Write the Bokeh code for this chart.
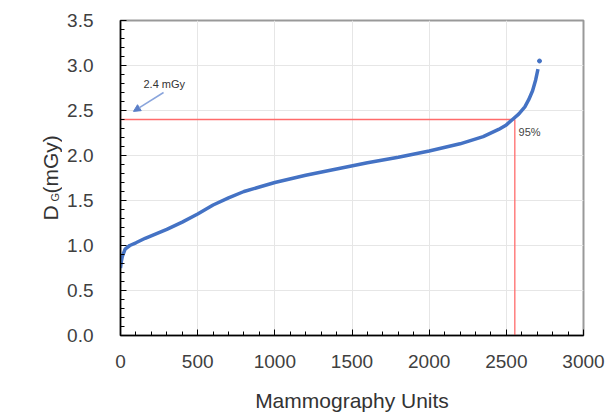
import numpy as np
from bokeh.plotting import figure
from bokeh.layouts import row
from bokeh.models import (Range1d, FixedTicker, Label, Arrow, NormalHead,
                          CustomJSTickFormatter)
from bokeh.core.properties import value
from bokeh.embed import file_html
from bokeh.resources import INLINE

# ---- data ----
units = [0, 5, 12, 30, 60, 100, 160, 230, 300, 400, 500, 600, 700, 800, 900,
         1000, 1200, 1400, 1600, 1800, 2000, 2200, 2350, 2450, 2500, 2540, 2580,
         2620, 2645, 2670, 2690, 2705]
dose = [0.75, 0.82, 0.88, 0.96, 1.00, 1.03, 1.08, 1.13, 1.18, 1.26, 1.35, 1.45,
        1.53, 1.60, 1.65, 1.70, 1.78, 1.85, 1.92, 1.98, 2.05, 2.13, 2.21, 2.29,
        2.34, 2.40, 2.46, 2.54, 2.62, 2.72, 2.84, 2.96]
top_unit = [2715]
top_dose = [3.05]

ref_dose = 2.4      # mGy
ref_unit = 2555     # 95th percentile rank
x_ticks = [0, 500, 1000, 1500, 2000, 2500, 3000]
y_ticks = [0.0, 0.5, 1.0, 1.5, 2.0, 2.5, 3.0, 3.5]
ylabel_parts = ["D", "G", "(mGy)"]

FONT = "Liberation Sans"
BLUE = "#4472c4"
RED = "#ff6b6b"

p = figure(output_backend="svg", toolbar_location=None,
           frame_width=463, frame_height=315,
           min_border_left=58, min_border_right=22,
           min_border_top=20, min_border_bottom=81,
           x_range=Range1d(0, 3000), y_range=Range1d(0, 3.5),
           background_fill_color="white", border_fill_color="white")

p.outline_line_color = "#999999"
p.outline_line_width = 2

# grid
p.xgrid.ticker = FixedTicker(ticks=x_ticks)
p.ygrid.ticker = FixedTicker(ticks=y_ticks)
p.xgrid.grid_line_color = "#e6e6e6"
p.ygrid.grid_line_color = "#e6e6e6"

# axes
p.xaxis.ticker = FixedTicker(ticks=x_ticks, minor_ticks=list(range(0, 3001, 100)))
p.yaxis.ticker = FixedTicker(ticks=y_ticks, minor_ticks=[i / 10 for i in range(0, 36)])
p.yaxis.formatter = CustomJSTickFormatter(code="return tick.toFixed(1);")
for ax in (p.xaxis, p.yaxis):
    ax.axis_line_color = "black"
    ax.axis_line_width = 1.5
    ax.major_tick_in = 6
    ax.major_tick_out = 0
    ax.minor_tick_in = 4
    ax.minor_tick_out = 0
    ax.major_tick_line_color = "black"
    ax.minor_tick_line_color = "black"
    ax.major_label_text_font = FONT
    ax.major_label_text_font_size = "19px"
    ax.major_label_text_color = "#404040"

p.yaxis.major_label_standoff = 27
p.xaxis.major_label_standoff = 19
p.xaxis.axis_label = "Mammography Units"
p.xaxis.axis_label_text_font = FONT
p.xaxis.axis_label_text_font_size = "21px"
p.xaxis.axis_label_text_font_style = "normal"
p.xaxis.axis_label_text_color = "#333333"
p.xaxis.axis_label_standoff = 18

# reference lines
p.line([0, ref_unit], [ref_dose, ref_dose], line_color=RED, line_width=1.3)
p.line([ref_unit, ref_unit], [0, ref_dose], line_color=RED, line_width=1.3)

# curve
p.line(units, dose, line_color=BLUE, line_width=3.5)
p.scatter(top_unit, top_dose, size=4, color=BLUE)

# annotations
p.add_layout(Label(x=149, y=2.79, text="2.4 mGy", text_font=FONT,
                   text_font_size="11px", text_color="#333333",
                   text_baseline="middle", text_align="left"))
p.add_layout(Arrow(end=NormalHead(size=7, fill_color="#5b7fc8", line_color="#5b7fc8"),
                   x_start=279, y_start=2.70, x_end=84, y_end=2.49,
                   line_color="#8aa5dc", line_width=1.5))
p.add_layout(Label(x=2579, y=2.26, text="95%", text_font=FONT,
                   text_font_size="11px", text_color="#444444",
                   text_baseline="middle", text_align="left"))

# side panel carrying the rotated y axis title  D_G (mGy)
side = figure(output_backend="svg", toolbar_location=None,
              frame_width=62, frame_height=416, min_border=0,
              x_axis_type=None, y_axis_type=None,
              x_range=Range1d(0, 62), y_range=Range1d(0, 416),
              background_fill_color="white", border_fill_color="white")
side.grid.visible = False
side.outline_line_color = None
# x = baseline, y = start of the text, in panel units
side.text(x=[50], y=[216], text=[ylabel_parts[0]], angle=np.pi / 2,
          text_font=value(FONT), text_font_size="21px", text_color="#333333",
          text_baseline="alphabetic", text_align="left")
side.text(x=[54], y=[235], text=[ylabel_parts[1]], angle=np.pi / 2,
          text_font=value(FONT), text_font_size="11px", text_color="#333333",
          text_baseline="alphabetic", text_align="left")
side.text(x=[50], y=[243], text=[ylabel_parts[2]], angle=np.pi / 2,
          text_font=value(FONT), text_font_size="21px", text_color="#333333",
          text_baseline="alphabetic", text_align="left")

layout = row(side, p, spacing=0)
open("out.html", "w").write(file_html(layout, INLINE))
